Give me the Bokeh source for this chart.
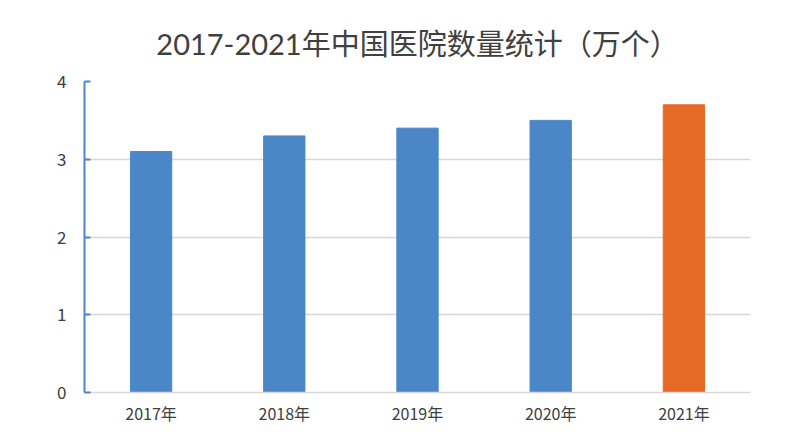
from bokeh.plotting import figure
from bokeh.models import ColumnDataSource, FactorRange, Range1d, SingleIntervalTicker
from bokeh.embed import file_html
from bokeh.resources import INLINE

years = ["2017年", "2018年", "2019年", "2020年", "2021年"]
counts = [3.1, 3.3, 3.4, 3.5, 3.7]
colors = ["#4a86c8", "#4a86c8", "#4a86c8", "#4a86c8", "#e46a25"]
title_text = "2017-2021年中国医院数量统计（万个）"

FONT = "Noto Sans CJK SC"

src = ColumnDataSource(dict(x=years, top=counts, color=colors))

p = figure(width=784, height=428, x_range=FactorRange(*years, range_padding=0),
           y_range=Range1d(0, 4), output_backend="svg", toolbar_location=None,
           min_border_left=84, min_border_right=34, min_border_bottom=36, min_border_top=81)
p.title.text = title_text
p.title.align = "center"
p.title.text_font = "Lato, 'Noto Sans CJK SC'"
p.title.text_font_size = "29px"
p.title.text_font_style = "normal"
p.title.text_color = "#404040"
p.title.standoff = 42

p.vbar(x="x", top="top", width=0.31, color="color", source=src)

p.outline_line_color = None
p.xgrid.grid_line_color = None
p.ygrid.grid_line_color = "#d6d6d6"
p.ygrid.grid_line_width = 1.5
p.yaxis.ticker = SingleIntervalTicker(interval=1)
p.yaxis.axis_line_color = "#4a86c8"
p.yaxis.axis_line_width = 2
p.yaxis.major_tick_line_color = "#4a86c8"
p.yaxis.major_tick_line_width = 2
p.yaxis.major_tick_in = 6
p.yaxis.major_tick_out = 0
p.yaxis.minor_tick_line_color = None
p.yaxis.major_label_text_font = FONT
p.yaxis.major_label_text_font_size = "17px"
p.yaxis.major_label_text_color = "#404040"
p.yaxis.major_label_standoff = 14

p.xaxis.axis_line_color = "#d6d6d6"
p.xaxis.axis_line_width = 1.5
p.xaxis.major_tick_line_color = None
p.xaxis.minor_tick_line_color = None
p.xaxis.major_label_text_font = FONT
p.xaxis.major_label_text_font_size = "16px"
p.xaxis.major_label_text_color = "#404040"
p.xaxis.major_label_standoff = 2

open("out.html", "w").write(file_html(p, INLINE))
